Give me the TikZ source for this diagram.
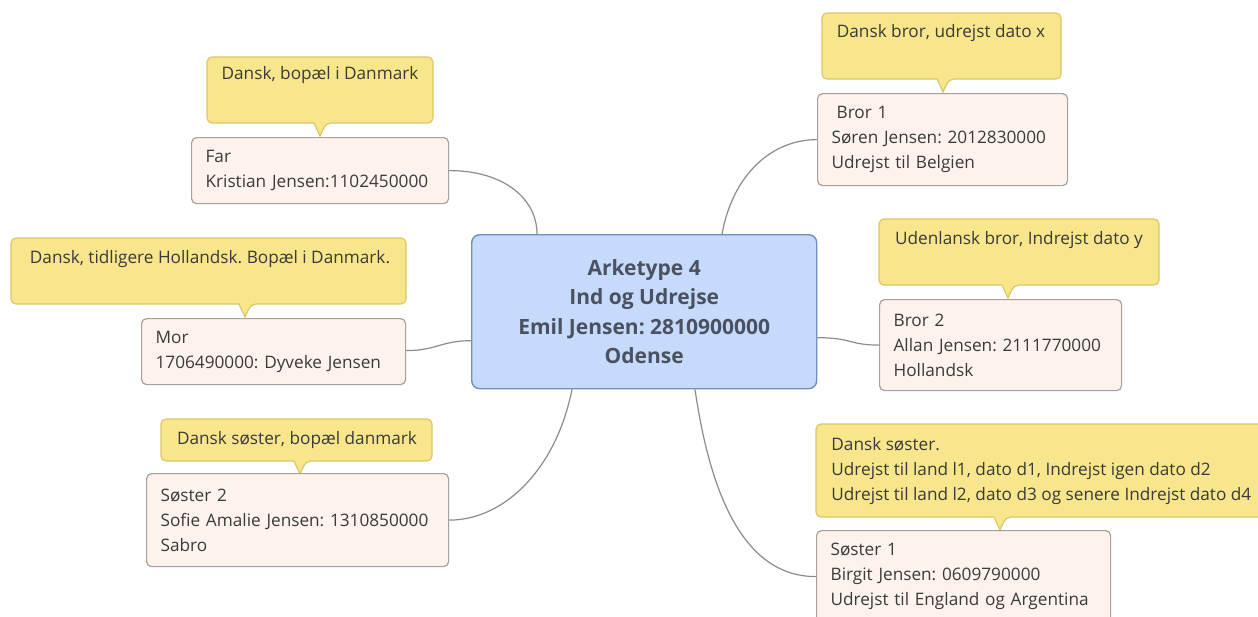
\documentclass[tikz,border=0pt]{standalone}
\usepackage{fontspec}
\setmainfont{Open Sans}
\usetikzlibrary{calc}
\definecolor{callfill}{HTML}{F8E68C}
\definecolor{calldraw}{HTML}{DCC768}
\definecolor{boxfill}{HTML}{FDF3EC}
\definecolor{boxdraw}{HTML}{A8A09A}
\definecolor{ctrfill}{HTML}{C6DAFC}
\definecolor{ctrdraw}{HTML}{7090C0}
\definecolor{txtc}{HTML}{3A3A3A}
\definecolor{ctrtxt}{HTML}{4A5160}
\definecolor{connc}{HTML}{8C8C8C}
\newcommand\mycallout[5]{%
  \draw[callshape] (#1,#4) [rounded corners=2.5pt] -- (#1,#2) -- (#3,#2) -- (#3,#4) -- (#5+6,#4) [sharp corners] -- (#5,#4+13) -- (#5-6,#4) [rounded corners=2.5pt] -- cycle;}
\begin{document}
\frenchspacing
\begin{tikzpicture}[x=0.5pt,y=-0.5pt,
  pbox/.style={draw=boxdraw, fill=boxfill, rounded corners=2.5pt, line width=0.6pt,
    align=left, anchor=north west, inner xsep=7pt, inner ysep=0pt, text=txtc,
    font=\fontsize{8.6}{12.5}\selectfont\frenchspacing},
  ctrbox/.style={draw=ctrdraw, fill=ctrfill, rounded corners=4pt, line width=0.7pt,
    align=center, anchor=north west, inner sep=0pt, text=ctrtxt,
    font=\fontsize{10.5}{14.75}\selectfont\bfseries\frenchspacing},
  callshape/.style={draw=calldraw, fill=callfill, line width=0.6pt},
  calltext/.style={text=txtc, inner sep=0pt, font=\fontsize{8.6}{12.3}\selectfont\frenchspacing},
  conn/.style={draw=connc, line width=0.6pt}]
\clip (0,0) rectangle (1258,616);
\fill[white] (0,0) rectangle (1258,616);

% callouts
\mycallout{207}{57}{433}{123}{320}
\node[calltext] (farnote) at (320,75) {Dansk, bopæl i Danmark};
\mycallout{822}{13}{1061}{79}{943}
\node[calltext] (bror1note) at (941,33) {Dansk bror, udrejst dato x};
\mycallout{879}{219}{1159}{285}{1008}
\node[calltext] (bror2note) at (1019,240) {Udenlansk bror, Indrejst dato y};
\mycallout{11}{238}{406}{304}{245}
\node[calltext] (mornote) at (210,259) {Dansk, tidligere Hollandsk. Bopæl i Danmark.};
\mycallout{161}{419}{432}{461}{300}
\node[calltext] (s2note) at (297,440) {Dansk søster, bopæl danmark};
\mycallout{816}{424}{1266}{517}{1000}
\node[calltext, align=left, anchor=west] (s1note) at (831,471) {Dansk søster.\\Udrejst til land l1, dato d1, Indrejst igen dato d2\\Udrejst til land l2, dato d3 og senere Indrejst dato d4};

% boxes
\node[ctrbox, minimum width=172.5pt, minimum height=77pt] (ctr) at (471,234)
  {Arketype 4\\Ind og Udrejse\\Emil Jensen: 2810900000\\Odense};
\node[pbox, text width=114.5pt, minimum height=33pt] (far) at (191,137)
  {Far\\Kristian Jensen:1102450000};
\node[pbox, text width=111pt, minimum height=46pt] (bror1) at (817,93)
  {\hspace*{2.5pt}Bror 1\\Søren Jensen: 2012830000\\Udrejst til Belgien};
\node[pbox, text width=107pt, minimum height=45.5pt] (bror2) at (879,299)
  {Bror 2\\Allan Jensen: 2111770000\\Hollandsk};
\node[pbox, text width=118pt, minimum height=33pt] (mor) at (141,318)
  {Mor\\1706490000: Dyveke Jensen};
\node[pbox, text width=137pt, minimum height=46.5pt] (s2) at (146,473)
  {Søster 2\\Sofie Amalie Jensen: 1310850000\\Sabro};
\node[pbox, text width=133pt, minimum height=46pt] (s1) at (816,530)
  {Søster 1\\Birgit Jensen: 0609790000\\Udrejst til England og Argentina};

% connectors
\draw[conn] (far.east) .. controls ($(far.east)+(55,0)$) and ($(ctr.north west)+(66,-35)$) .. ($(ctr.north west)+(66,0)$);
\draw[conn] ($(ctr.north west)+(251,0)$) .. controls ($(ctr.north west)+(262,-60)$) and ($(bror1.west)+(-45,0)$) .. (bror1.west);
\draw[conn] ($(ctr.east)+(0,26)$) .. controls ($(ctr.east)+(35,26)$) and ($(bror2.west)+(-30,0)$) .. (bror2.west);
\draw[conn] ($(ctr.west)+(0,29)$) .. controls ($(ctr.west)+(-30,29)$) and ($(mor.east)+(30,-1)$) .. ($(mor.east)+(0,-1)$);
\draw[conn] ($(ctr.south west)+(101,0)$) .. controls ($(ctr.south west)+(85,80)$) and ($(s2.east)+(55,0)$) .. (s2.east);
\draw[conn] ($(ctr.south west)+(224,0)$) .. controls ($(ctr.south west)+(240,110)$) and ($(s1.west)+(-70,0)$) .. (s1.west);
\end{tikzpicture}
\end{document}
